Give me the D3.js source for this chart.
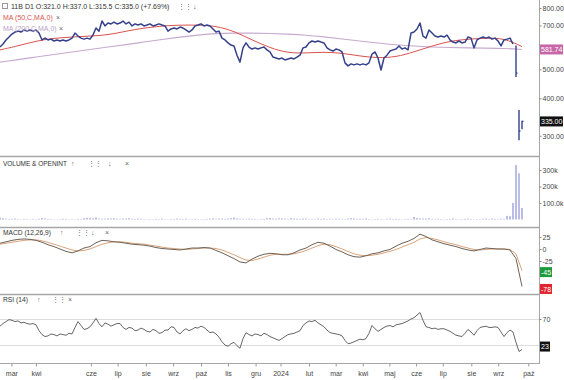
<!DOCTYPE html>
<html>
<head>
<meta charset="utf-8">
<script src="https://cdn.jsdelivr.net/npm/d3@7"></script>
<style>
  body { margin: 0; background: #fff; }
  svg { display: block; font-family: "Liberation Sans", Arial, sans-serif; }
</style>
</head>
<body>
<svg id="chart" width="564" height="380"></svg>
<script>
// ---- data (x unit = one sample slot, ~2 sessions) ----
const closes = [
  593, 607, 626, 640, 655, 665, 670, 665, 676, 670, 676, 670, 676, 660, 626, 635, 626, 630, 621, 626,
  621, 626, 621, 626, 635, 660, 645, 635, 630, 635, 630, 650, 686, 670, 724, 697, 713, 708, 718, 708,
  713, 724, 708, 718, 697, 708, 702, 708, 697, 702, 708, 697, 702, 708, 702, 697, 670, 681, 686, 681,
  691, 686, 676, 665, 676, 697, 702, 708, 697, 702, 697, 681, 665, 670, 635, 626, 612, 602, 598, 557,
  528, 589, 612, 593, 584, 589, 584, 589, 593, 580, 571, 549, 545, 541, 545, 537, 541, 545, 541, 549,
  557, 589, 593, 612, 621, 616, 621, 616, 612, 589, 580, 575, 584, 580, 571, 525, 513, 521, 517, 521,
  517, 521, 517, 525, 562, 571, 545, 497, 545, 557, 575, 580, 584, 598, 584, 589, 580, 660, 665, 681,
  713, 645, 635, 676, 660, 645, 640, 645, 640, 650, 626, 616, 612, 621, 612, 616, 640, 635, 589, 626,
  635, 640, 635, 640, 630, 635, 621, 598, 626, 630, 635, 607
];
// last sessions after the crash, drawn as bars
const tailIdx   = [172, 173, 174];
const tailHigh  = [600, 366, 337];
const tailLow   = [471, 290, 315.5];
const tailClose = [485, 311, 335];

const ma50 = [ // every 6 slots
  580, 598, 621, 635, 640, 645, 650, 670, 686, 697, 702, 702, 697, 670, 626,
  589, 566, 566, 571, 566, 553, 545, 549, 571, 598, 621, 630, 635, 635, 595
];
const ma200 = [ // every 6 slots
  528, 538, 549, 560, 571, 582, 593, 604, 616, 628, 640, 650, 658, 660, 660,
  658, 655, 650, 641, 631, 621, 611, 603, 597, 593, 591, 589, 588, 587, 582
];
const MA_STEP = 6;

const volume = [ // thousands, every slot
  12, 8, 5, 3, 4, 6, 3, 2, 4, 3, 2, 3, 2, 5, 9, 7, 4, 3, 2, 2,
  3, 5, 4, 2, 3, 2, 4, 3, 8, 10, 9, 7, 12, 6, 5, 4, 7, 6, 8, 5,
  4, 6, 5, 8, 4, 3, 5, 4, 3, 2, 3, 2, 4, 3, 5, 3, 2, 4, 3, 6,
  4, 3, 5, 2, 3, 4, 3, 2, 3, 4, 5, 7, 4, 6, 5, 4, 6, 8, 12, 7,
  5, 4, 3, 5, 4, 3, 2, 3, 4, 8, 9, 6, 5, 7, 6, 5, 4, 8, 6, 5,
  4, 6, 5, 3, 4, 3, 5, 4, 6, 3, 4, 3, 5, 4, 3, 2, 5, 8, 6, 4,
  5, 4, 6, 3, 2, 3, 4, 3, 2, 4, 5, 3, 4, 3, 2, 3, 4, 3, 15, 9,
  7, 6, 5, 8, 4, 3, 4, 3, 2, 3, 4, 6, 3, 2, 3, 4, 5, 3, 2, 3,
  3, 4, 5, 3, 6, 4, 3, 5, 4, 22, 20, 100, 330, 280, 70
];

const macd = [ // every 2 slots
  12, 15, 18, 20, 21, 20, 18, 14, 9, 5, 0, -5, -8, -4, 2, 5, 13, 18, 17, 15,
  14, 12, 10, 9, 8, 6, 3, 1, 0, -1, -2, 0, 2, 2, 3, 2, -3, -8, -14, -20,
  -27, -29, -21, -15, -11, -9, -10, -12, -12, -8, -2, 2, 9, 14, 12, 6, -1, -6, -12, -16,
  -17, -14, -10, -8, -4, -1, 6, 12, 16, 22, 31, 26, 19, 15, 11, 8, 5, 1, -2, -4,
  -1, 2, 1, 0, 0, -2, -20, -78
];
const signal = [ // every 2 slots
  10, 12, 14, 16, 18, 19, 19, 17, 14, 10, 6, 2, -2, -4, -3, 0, 5, 10, 13, 15,
  15, 14, 12, 11, 10, 8, 6, 4, 2, 1, 0, -1, 0, 1, 2, 2, 1, -2, -7, -12,
  -18, -23, -24, -21, -17, -13, -11, -11, -11, -10, -7, -3, 2, 7, 10, 9, 5, 0, -5, -10,
  -13, -14, -13, -11, -8, -5, -1, 4, 9, 14, 21, 24, 22, 19, 15, 12, 9, 5, 2, -1,
  -2, -1, 0, 0, 0, -1, -10, -45
];
const MACD_STEP = 2;

const rsi = [ // every slot
  59, 63, 66, 69, 68, 66, 67, 64, 65, 63, 62, 63, 61, 52, 46, 43, 44, 47, 46, 44,
  47, 46, 45, 48, 47, 57, 66, 60, 54, 55, 58, 64, 71, 63, 58, 64, 62, 59, 61, 63,
  63, 57, 54, 57, 56, 52, 53, 56, 54, 51, 50, 54, 52, 48, 49, 53, 53, 58, 57, 50,
  47, 52, 55, 52, 54, 57, 56, 59, 57, 53, 49, 50, 47, 42, 35, 30, 28, 32, 34, 29,
  25, 40, 49, 46, 44, 47, 46, 44, 48, 46, 43, 41, 39, 37, 40, 43, 46, 47, 48, 50,
  52, 60, 64, 67, 66, 68, 64, 61, 58, 53, 49, 48, 47, 46, 44, 37, 32, 33, 35, 37,
  39, 38, 40, 48, 60, 55, 51, 54, 57, 59, 60, 58, 61, 62, 63, 65, 67, 70, 72, 76,
  80, 68, 58, 57, 55, 56, 54, 55, 55, 53, 51, 48, 45, 44, 43, 48, 54, 50, 45, 52,
  57, 58, 59, 57, 57, 58, 57, 50, 43, 49, 53, 50, 34, 20, 23
];

const monthLabels = ['mar', 'kwi', 'cze', 'lip', 'sie', 'wrz', 'paź', 'lis', 'gru', '2024',
  'lut', 'mar', 'kwi', 'maj', 'cze', 'lip', 'sie', 'wrz', 'paź'];
const monthIdx = [3.8, 12, 30.3, 39.2, 48.6, 57.7, 67, 76, 85.2, 93.5,
  103, 111.9, 120.9, 129.8, 138.7, 147.6, 157.1, 166.1, 176.1];

const priceTicks = [800, 700, 500, 400, 300];
const volTicks = [100, 200, 300];
const volTickLabels = ['100.0k', '200k', '300k'];
const macdTicks = [25, 0, -25];
const rsiTicks = [70];
const rsiLevels = [70, 30];

// ---- layout ----
const R = 539;          // right edge of plot area
const svg = d3.select('#chart');
const x = d3.scaleLinear().domain([0, 180]).range([0, 540]);

const yPrice = d3.scaleLog().domain([800, 300]).range([8, 135.8]);
const yVol = d3.scaleLinear().domain([0, 300]).range([219.5, 170]);
const yMacd = d3.scaleLinear().domain([25, -25]).range([237, 261]);
const yRsi = d3.scaleLinear().domain([70, 30]).range([319, 345]);

const panels = [[0, 156], [156, 227], [227, 294], [294, 363]];

svg.append('rect').attr('width', 564).attr('height', 380).attr('fill', '#fff');

const defs = svg.append('defs');
panels.forEach((p, i) => {
  defs.append('clipPath').attr('id', 'clip' + i)
    .append('rect').attr('x', 0).attr('y', p[0] + 1).attr('width', R).attr('height', p[1] - p[0] - 1);
});

// RSI guide lines
svg.append('g').selectAll('line').data(rsiLevels).join('line')
  .attr('x1', 0).attr('x2', R)
  .attr('y1', d => yRsi(d) + 0.5).attr('y2', d => yRsi(d) + 0.5)
  .attr('stroke', '#dcdcdc').attr('stroke-width', 1);

// ---- price panel ----
const gp = svg.append('g').attr('clip-path', 'url(#clip0)');
const maLine = d3.line().x((d, i) => x(i * MA_STEP)).y(d => yPrice(d)).curve(d3.curveBasis);

gp.append('path').datum(ma200).attr('d', maLine)
  .attr('fill', 'none').attr('stroke', '#c7a9cf').attr('stroke-width', 1.1);
gp.append('path').datum(ma50).attr('d', maLine)
  .attr('fill', 'none').attr('stroke', '#d9534f').attr('stroke-width', 1);

gp.append('path').datum(closes)
  .attr('d', d3.line().x((d, i) => x(i)).y(d => yPrice(d)))
  .attr('fill', 'none').attr('stroke', '#34418a').attr('stroke-width', 1.5)
  .attr('stroke-linejoin', 'round');

const tail = tailIdx.map((t, i) => ({ t, h: tailHigh[i], l: tailLow[i], c: tailClose[i] }));
gp.selectAll('line.hl').data(tail).join('line').attr('class', 'hl')
  .attr('x1', d => x(d.t)).attr('x2', d => x(d.t))
  .attr('y1', d => yPrice(d.h)).attr('y2', d => yPrice(d.l))
  .attr('stroke', '#34418a').attr('stroke-width', 1.4);
gp.selectAll('line.cl').data(tail).join('line').attr('class', 'cl')
  .attr('x1', d => x(d.t)).attr('x2', d => x(d.t) + 1.5)
  .attr('y1', d => yPrice(d.c)).attr('y2', d => yPrice(d.c))
  .attr('stroke', '#34418a').attr('stroke-width', 1.2);

// ---- volume ----
svg.append('g').attr('clip-path', 'url(#clip1)')
  .selectAll('rect').data(volume).join('rect')
  .attr('x', (d, i) => x(i) - 0.6).attr('width', 1.2)
  .attr('y', d => yVol(d)).attr('height', d => yVol(0) - yVol(d))
  .attr('fill', '#8e92d6');

// ---- MACD ----
const gm = svg.append('g').attr('clip-path', 'url(#clip2)');
const macdLine = d3.line().x((d, i) => x(i * MACD_STEP)).y(d => yMacd(d));
gm.append('path').datum(signal).attr('d', macdLine)
  .attr('fill', 'none').attr('stroke', '#d9a47c').attr('stroke-width', 1);
gm.append('path').datum(macd).attr('d', macdLine)
  .attr('fill', 'none').attr('stroke', '#6e6257').attr('stroke-width', 1);

// ---- RSI ----
svg.append('g').attr('clip-path', 'url(#clip3)')
  .append('path').datum(rsi)
  .attr('d', d3.line().x((d, i) => x(i)).y(d => yRsi(d)))
  .attr('fill', 'none').attr('stroke', '#555').attr('stroke-width', 0.9);

// ---- frame ----
[156, 227, 294].forEach(y => {
  svg.append('line').attr('x1', 0).attr('x2', R).attr('y1', y + 0.5).attr('y2', y + 0.5)
    .attr('stroke', '#a6a6a6').attr('stroke-width', 1.5);
});
svg.append('line').attr('x1', R + 0.5).attr('x2', R + 0.5).attr('y1', 0).attr('y2', 364)
  .attr('stroke', '#a6a6a6').attr('stroke-width', 1);

// ---- right axes ----
function rightAxis(scale, ticks, fmt) {
  const g = svg.append('g').attr('transform', `translate(${R + 0.5},0)`)
    .call(d3.axisRight(scale).tickValues(ticks).tickSize(2).tickPadding(1).tickFormat(fmt));
  g.select('.domain').remove();
  g.selectAll('text').attr('fill', '#444').style('font-size', '7px');
  g.selectAll('line').attr('stroke', '#888');
  return g;
}
rightAxis(yPrice, priceTicks, d => d3.format('.2f')(d));
rightAxis(yVol, volTicks, (d, i) => volTickLabels[i]);
rightAxis(yMacd, macdTicks, d => d);
rightAxis(yRsi, rsiTicks, d => d);

function valueBox(y, label, fill, w) {
  const g = svg.append('g').attr('transform', `translate(${R + 1},${y})`);
  g.append('rect').attr('x', 0).attr('y', -5).attr('width', w).attr('height', 10).attr('fill', fill);
  g.append('text').attr('x', 1).attr('y', 2.6).text(label)
    .attr('fill', '#fff').style('font-size', '7px');
}
valueBox(yPrice(ma200[ma200.length - 1]), '581.74', '#c767a8', 23);
valueBox(yPrice(tailClose[tailClose.length - 1]), '335.00', '#111', 23);
valueBox(yMacd(signal[signal.length - 1]) + 1.5, '-45', '#1f9a3c', 12);
valueBox(yMacd(macd[macd.length - 1]) + 2.5, '-78', '#e0252f', 12);
valueBox(yRsi(rsi[rsi.length - 1]) - 3, '23', '#111', 10);

// ---- bottom axis ----
const gx = svg.append('g').attr('transform', 'translate(0,363.5)')
  .call(d3.axisBottom(x).tickValues(monthIdx).tickSize(3).tickPadding(5)
    .tickFormat((d, i) => monthLabels[i]));
gx.select('.domain').remove();
gx.selectAll('text').attr('fill', '#444').style('font-size', '7px');
gx.selectAll('line').attr('stroke', '#999');
svg.append('line').attr('x1', 0).attr('x2', R + 1).attr('y1', 363.5).attr('y2', 363.5)
  .attr('stroke', '#a6a6a6').attr('stroke-width', 1);

// ---- panel titles ----
const t = svg.append('g').style('font-size', '7px');
t.append('rect').attr('x', 2.5).attr('y', 3.5).attr('width', 5).attr('height', 5)
  .attr('fill', 'none').attr('stroke', '#999');
t.append('text').attr('x', 11).attr('y', 9).attr('fill', '#333')
  .text('11B  D1  O:321.0  H:337.0  L:315.5  C:335.0  (+7.69%)');
t.append('text').attr('x', 178).attr('y', 9).attr('fill', '#666').text('⋮⋮');
t.append('text').attr('x', 193).attr('y', 9).attr('fill', '#666').text('↓');
t.append('text').attr('x', 3).attr('y', 20).attr('fill', '#d9534f').text('MA (50,C,MA,0)');
t.append('text').attr('x', 56).attr('y', 20).attr('fill', '#666').text('×');
t.append('text').attr('x', 3).attr('y', 31).attr('fill', '#b99fc6').text('MA (200,C,MA,0)');
t.append('text').attr('x', 59).attr('y', 31).attr('fill', '#666').text('×');

function paneTitle(y, label, len, icons) {
  t.append('text').attr('x', 3).attr('y', y).attr('fill', '#333')
    .attr('textLength', len).attr('lengthAdjust', 'spacingAndGlyphs').text(label);
  icons.forEach(([ix, s]) => t.append('text').attr('x', ix).attr('y', y).attr('fill', '#666').text(s));
}
paneTitle(166, 'VOLUME & OPENINT', 64, [[71, '↑'], [88, '⋮⋮'], [108, '↓'], [125, '×']]);
paneTitle(235, 'MACD (12,26,9)', 48, [[60, '↑'], [76, '⋮⋮'], [91, '↓'], [105, '×']]);
paneTitle(302, 'RSI (14)', 25, [[37, '↑'], [52, '⋮⋮'], [68, '×']]);
</script>
</body>
</html>
